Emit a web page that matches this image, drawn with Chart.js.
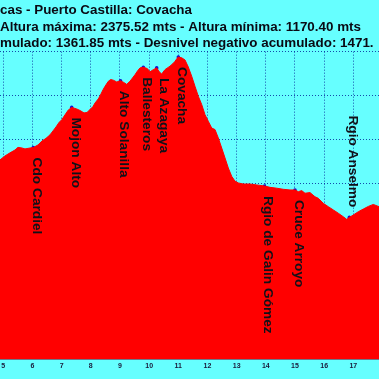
<!DOCTYPE html>
<html><head><meta charset="utf-8">
<style>html,body{margin:0;padding:0;background:#66ffff;overflow:hidden}
#wrap{position:absolute;left:0;top:0;width:379px;height:379px}</style>
<script src="https://cdn.jsdelivr.net/npm/chart.js@4/dist/chart.umd.min.js"></script>
</head><body><div id="wrap"><canvas id="c" width="379" height="379"></canvas></div>
<script>
const titleLines = [
  "cas - Puerto Castilla: Covacha",
  "Altura máxima: 2375.52 mts - Altura mínima: 1170.40 mts",
  "mulado: 1361.85 mts - Desnivel negativo acumulado: 1471."
];
const distanceKm = [4.715,4.887,5.058,5.230,5.401,5.504,5.641,5.744,5.915,6.028,6.190,6.327,6.464,6.601,6.704,6.807,6.909,7.012,7.115,7.228,7.345,7.516,7.629,7.767,7.869,7.972,8.075,8.144,8.257,8.315,8.418,8.487,8.600,8.682,8.771,8.888,9.018,9.114,9.230,9.343,9.429,9.515,9.601,9.686,9.800,9.937,10.029,10.142,10.259,10.348,10.430,10.543,10.715,10.818,10.887,10.955,11.000,11.117,11.230,11.342,11.459,11.572,11.685,11.802,11.915,12.028,12.145,12.258,12.371,12.488,12.601,12.714,12.831,12.944,13.056,13.228,13.458,13.687,13.954,14.143,14.373,14.599,14.829,15.000,15.113,15.230,15.343,15.515,15.686,15.799,15.971,16.142,16.314,16.485,16.656,16.773,16.863,17.000,17.171,17.342,17.514,17.685,17.880,18.085];
const elevationM = [1893,1907,1925,1939,1952,1964,1961,1957,1961,1963,1975,1993,2005,2021,2039,2057,2077,2091,2112,2134,2146,2139,2132,2121,2123,2136,2150,2166,2185,2198,2226,2242,2265,2273,2270,2262,2267,2261,2251,2265,2280,2295,2312,2326,2329,2323,2308,2318,2326,2308,2298,2318,2334,2346,2356,2369,2375.52,2372,2362,2330,2288,2242,2197,2159,2113,2083,2052,2045,2007,1961,1916,1870,1832,1810,1802,1797,1797,1793,1788,1782,1778,1773,1770,1770,1762,1767,1755,1758,1739,1732,1709,1694,1679,1664,1648,1636,1645,1656,1671,1683,1695,1704,1694,1688];
const wpNames = ["Cdo Cardiel","Mojon Alto","Alto Solanilla","Ballesteros","La Azagaya","Covacha","Rgio de Galin Gómez","Cruce Arroyo","Rgio Anselmo"];
const wpKm = [6.028,7.345,9.018,9.800,10.259,11.000,13.954,15.000,16.863];
const wpElev = [1963,2146,2267,2329,2326,2375.52,1788,1770,1645];
const wpAbove = [false,false,false,false,false,false,false,false,true];
const wpDx = [0,0,0,0,3,0,0,0,0];
const xTickStep = 1;
const yTickStep = 200;

const BG = '#66ffff';
const gridColor = 'rgba(0,30,150,0.8)';

const bgPlugin = {
  id:'bg',
  beforeDraw(chart){
    const c = chart.ctx; c.save(); c.fillStyle = BG; c.fillRect(0,0,chart.width,chart.height); c.restore();
  }
};
const labelPlugin = {
  id:'wplabels',
  afterDraw(chart){
    const c = chart.ctx, xs = chart.scales.x, ys = chart.scales.y;
    c.save();
    c.font = 'bold 13.7px Arial, "Liberation Sans", sans-serif';
    c.fillStyle = '#111118';
    wpNames.forEach((n,i)=>{
      const px = xs.getPixelForValue(wpKm[i]) + wpDx[i];
      const py = ys.getPixelForValue(wpElev[i]);
      c.save();
      c.translate(px, wpAbove[i] ? py - 10 : py + 10);
      c.rotate(Math.PI/2);
      c.textAlign = wpAbove[i] ? 'right' : 'left';
      c.textBaseline = 'alphabetic';
      c.fillText(n, 0, 0);
      c.restore();
    });
    c.restore();
  }
};

new Chart(document.getElementById('c'), {
  type:'line',
  data:{
    datasets:[
      {
        data: distanceKm.map((d,i)=>({x:d,y:elevationM[i]})),
        fill:'start',
        backgroundColor:'#ff0000',
        borderColor:'#ff0000',
        borderWidth:1,
        pointRadius:0,
        pointHoverRadius:0,
        tension:0
      },
      {
        type:'scatter',
        data: wpKm.map((d,i)=>({x:d,y:wpElev[i]})),
        pointRadius:1.8,
        pointHoverRadius:0,
        pointBackgroundColor:'#1010d0',
        pointBorderWidth:0,
        showLine:false
      }
    ]
  },
  options:{
    responsive:false,
    animation:false,
    devicePixelRatio:1,
    layout:{padding:0, autoPadding:false},
    plugins:{
      legend:{display:false},
      tooltip:{enabled:false},
      title:{
        display:true, text:titleLines, align:'start', color:'#0a0a14',
        font:{family:'Arial, "Liberation Sans", sans-serif', size:13.4, weight:'bold', lineHeight:1.235},
        padding:{top:2,bottom:0}
      }
    },
    scales:{
      x:{
        type:'linear', min:4.887, max:17.88, z:1,
        grid:{color:gridColor, drawTicks:false},
        border:{display:true, color:'#6a7a8a', width:1, dash:[1,2]},
        ticks:{stepSize:xTickStep, includeBounds:false, padding:3, color:'#1a1a3a',
          font:{family:'Arial, "Liberation Sans", sans-serif', size:7, weight:'bold'},
          callback:(v)=>String(v), maxRotation:0, autoSkip:false},
        afterFit(s){ s.height = 20; s.paddingLeft = 0; s.paddingRight = 0; }
      },
      y:{
        min:1000, max:2400, z:1,
        ticks:{display:false, stepSize:yTickStep},
        grid:{color:gridColor, drawTicks:false},
        border:{display:false, dash:[1,2]}
      }
    }
  },
  plugins:[bgPlugin, labelPlugin]
});
</script></body></html>
